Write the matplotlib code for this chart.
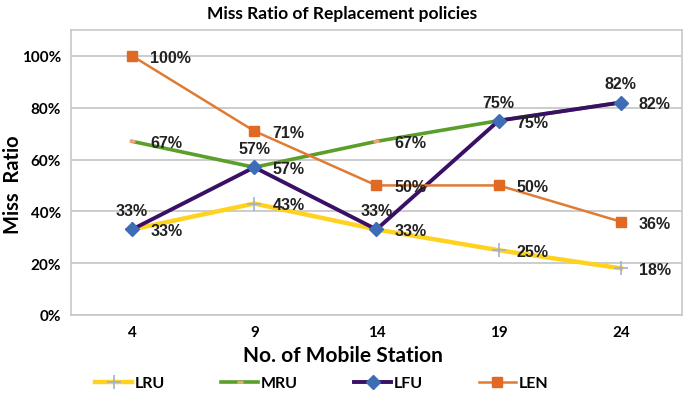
import matplotlib
matplotlib.use("Agg")
import matplotlib.pyplot as plt
from matplotlib.ticker import FuncFormatter

categories = ["4", "9", "14", "19", "24"]
lru = [33, 43, 33, 25, 18]
mru = [67, 57, 67, 75, 82]
lfu = [33, 57, 33, 75, 82]
len_ = [100, 71, 50, 50, 36]

# label placement per series: 'r' right, 'a' above
lru_pos = ['r', 'r', 'r', 'r', 'r']
mru_pos = ['r', 'a', 'r', 'a', 'a']
lfu_pos = ['a', 'r', 'a', 'r', 'r']
len_pos = ['r', 'r', 'r', 'r', 'r']

fig = plt.figure(figsize=(6.85, 4.02), dpi=100)
ax = fig.add_axes([0.1036, 0.214, 0.892, 0.709])
x = list(range(len(categories)))

ax.plot(x, [v / 100 for v in lru], color="#FFD21F", lw=3.2, marker="+", ms=10,
        mec="#9DB0D6", mew=1.2, label="LRU", zorder=3)
ax.plot(x, [v / 100 for v in mru], color="#5B9E2A", lw=2.6, marker="_", ms=4,
        mec="#F4A57C", mew=2, label="MRU", zorder=4)
ax.plot(x, [v / 100 for v in lfu], color="#3A0F66", lw=2.8, marker="D", ms=7,
        mfc="#3E6DB5", mec="#3E6DB5", label="LFU", zorder=5)
ax.plot(x, [v / 100 for v in len_], color="#E07B33", lw=1.8, marker="s", ms=7,
        mfc="#E06A23", mec="#E06A23", label="LEN", zorder=6)

lab_font = dict(fontsize=11.5, fontweight="bold", family="Liberation Sans", color="#222222")
for vals, poss in [(lru, lru_pos), (mru, mru_pos), (lfu, lfu_pos), (len_, len_pos)]:
    for xi, v, p in zip(x, vals, poss):
        if p == 'r':
            ax.annotate(f"{v}%", (xi, v / 100), xytext=(13, -1), textcoords="offset points",
                        ha="left", va="center", zorder=10, **lab_font)
        else:
            ax.annotate(f"{v}%", (xi, v / 100), xytext=(0, 8), textcoords="offset points",
                        ha="center", va="bottom", zorder=10, **lab_font)

ax.set_xlim(-0.5, 4.5)
ax.set_ylim(0, 1.1)
ax.set_yticks([0, 0.2, 0.4, 0.6, 0.8, 1.0])
ax.yaxis.set_major_formatter(FuncFormatter(lambda v, p: f"{v*100:.0f}%"))
ax.set_xticks(x)
ax.set_xticklabels(categories)
ax.grid(axis="y", color="#C8C8C8", lw=1.3)
ax.set_axisbelow(True)
for s in ax.spines.values():
    s.set_color("#C8C8C8")
    s.set_linewidth(1.2)
ax.tick_params(length=0, pad=7)
for t in ax.get_xticklabels() + ax.get_yticklabels():
    t.set_fontweight("bold")
    t.set_fontsize(11)
    t.set_family("Lato")

fig.text(0.5, 1 - 14 / 402, "Miss Ratio of Replacement policies", fontsize=12.5,
         fontweight="bold", family="Lato", ha="center", va="center")
fig.text(13 / 685, 1 - 185 / 402, "Miss  Ratio", fontsize=14.5, fontweight="bold",
         family="Lato", ha="center", va="center", rotation=90)
fig.text(0.5, 1 - 356 / 402, "No. of Mobile Station", fontsize=15, fontweight="bold",
         family="Lato", ha="center", va="center")

leg = ax.legend(loc="center", bbox_to_anchor=(0.47, 1 - 384 / 402), bbox_transform=fig.transFigure,
                ncol=4, frameon=False,
                prop=dict(family="Lato", weight="bold", size=11.5), handlelength=2.3,
                columnspacing=3.5, handletextpad=0.2)

fig.savefig("out.png", dpi=100)
